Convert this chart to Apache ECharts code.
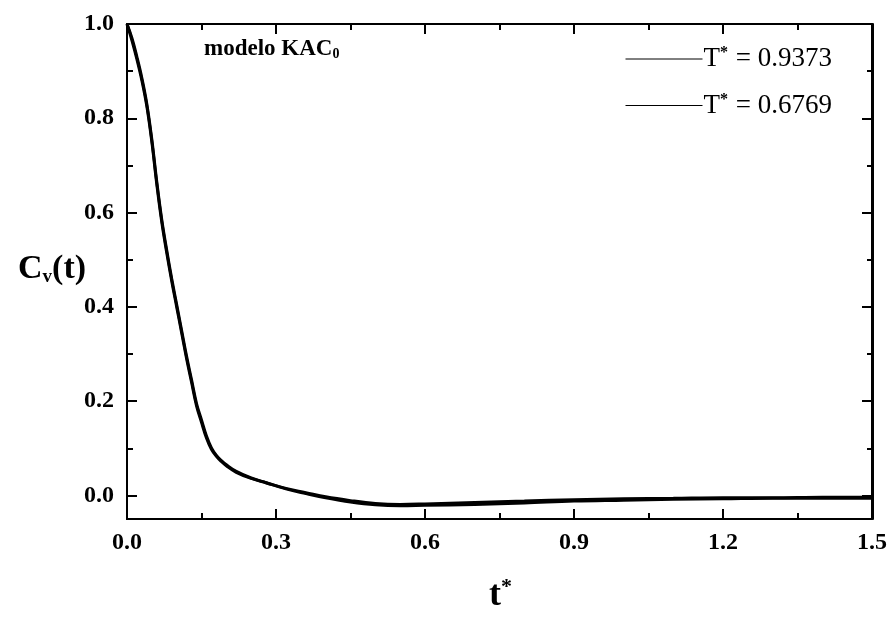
<!DOCTYPE html>
<html>
<head>
<meta charset="utf-8">
<script src="https://cdn.jsdelivr.net/npm/echarts@6/dist/echarts.min.js"></script>
<style>html,body{margin:0;padding:0;background:#fff;}#c{width:890px;height:617px;}</style>
</head>
<body>
<div id="c"></div>
<script>
var tValues = [0, 0.01, 0.02, 0.03, 0.04, 0.05, 0.06, 0.07, 0.08, 0.09, 0.10, 0.11, 0.12, 0.13, 0.14, 0.15, 0.16, 0.17, 0.18, 0.19, 0.20, 0.22, 0.25, 0.28, 0.32, 0.36, 0.40, 0.45, 0.50, 0.55, 0.60, 0.70, 0.80, 0.90, 1.0, 1.1, 1.2, 1.3, 1.4, 1.5];
var cT09373 = [1.0, 0.965, 0.925, 0.88, 0.825, 0.75, 0.66, 0.58, 0.515, 0.455, 0.40, 0.345, 0.29, 0.24, 0.19, 0.155, 0.122, 0.098, 0.083, 0.072, 0.063, 0.049, 0.036, 0.027, 0.015, 0.006, -0.003, -0.011, -0.017, -0.019, -0.018, -0.015, -0.012, -0.009, -0.007, -0.006, -0.005, -0.005, -0.004, -0.004];
var cT06769 = [1.0, 0.97, 0.93, 0.885, 0.83, 0.755, 0.665, 0.585, 0.52, 0.46, 0.405, 0.35, 0.295, 0.245, 0.195, 0.16, 0.126, 0.101, 0.085, 0.074, 0.065, 0.051, 0.037, 0.027, 0.014, 0.004, -0.005, -0.014, -0.020, -0.022, -0.021, -0.019, -0.016, -0.012, -0.010, -0.008, -0.007, -0.006, -0.006, -0.006];
var seriesNames = ['T* = 0.9373', 'T* = 0.6769'];
var yMajorTicks = [0, 0.2, 0.4, 0.6, 0.8, 1.0];
var yMinorTicks = [0.1, 0.3, 0.5, 0.7, 0.9];

var FONT = 'Liberation Serif';
function pairs(xs, ys) { return xs.map(function (x, i) { return [x, ys[i]]; }); }

var chart = echarts.init(document.getElementById('c'), null, { renderer: 'canvas' });
var gridPos = { left: 127, right: 17, top: 24, bottom: 98 };
var axisLineStyle = { color: '#000', width: 2 };

function yAxisDef(gridIndex, position, ticks, len, showLabel) {
  return {
    type: 'value', gridIndex: gridIndex, position: position, min: -0.05, max: 1.0,
    axisLine: { show: true, onZero: false, lineStyle: axisLineStyle },
    axisTick: { show: true, inside: true, length: len, lineStyle: { color: '#000', width: 2 }, customValues: ticks },
    axisLabel: { show: showLabel, customValues: ticks, margin: 13, color: '#000', fontFamily: FONT, fontSize: 24, fontWeight: 'bold',
      formatter: function (v) { return v.toFixed(1); } },
    splitLine: { show: false }
  };
}
function xAxisDef(gridIndex, position, showLabel, show) {
  return {
    type: 'value', gridIndex: gridIndex, position: position, min: 0, max: 1.5, interval: 0.3, show: show,
    axisLine: { show: true, onZero: false, lineStyle: axisLineStyle },
    axisTick: { show: true, inside: true, length: 10, lineStyle: { color: '#000', width: 2 } },
    minorTick: { show: true, splitNumber: 2, length: 6, lineStyle: { color: '#000', width: 2 } },
    axisLabel: { show: showLabel, margin: 12, color: '#000', fontFamily: FONT, fontSize: 24, fontWeight: 'bold',
      formatter: function (v) { return v.toFixed(1); } },
    splitLine: { show: false }
  };
}

var legendRich = { sup: { fontFamily: FONT, fontSize: 16, fontWeight: 'bold', color: '#000', verticalAlign: 'top', padding: [0, 1, 12, 0] },
  n: { fontFamily: FONT, fontSize: 27, color: '#000' } };

var option = {
  backgroundColor: '#fff',
  animation: false,
  grid: [Object.assign({}, gridPos), Object.assign({}, gridPos)],
  xAxis: [xAxisDef(0, 'bottom', true, true), xAxisDef(0, 'top', false, true), xAxisDef(1, 'bottom', false, false)],
  yAxis: [yAxisDef(0, 'left', yMajorTicks, 10, true), yAxisDef(0, 'right', yMajorTicks, 10, false),
          yAxisDef(1, 'left', yMinorTicks, 6, false), yAxisDef(1, 'right', yMinorTicks, 6, false)],
  legend: {
    show: true,
    orient: 'vertical', left: 620, top: 40, itemWidth: 77, itemHeight: 14, itemGap: 19,
    data: seriesNames.map(function (n) { return { name: n }; }),
    formatter: function (name) { return '{n|T}{sup|*}{n|' + name.slice(2) + '}'; },
    textStyle: { color: '#000', fontFamily: FONT, fontSize: 27, rich: legendRich, padding: [0, 0, 0, -4] },
    itemStyle: { opacity: 0 },
    lineStyle: { width: 1, color: '#000', opacity: 1 },
    selectedMode: false
  },
  title: {
    left: 199, top: 32,
    text: 'modelo KAC{sub|0}',
    textStyle: { fontFamily: FONT, fontSize: 23, fontWeight: 'bold', color: '#000',
      rich: { sub: { fontFamily: FONT, fontSize: 14, fontWeight: 'bold', color: '#000', verticalAlign: 'bottom', padding: [10, 0, 0, 0] } } }
  },
  graphic: [
    { type: 'text', left: 18, top: 252, style: { text: '{a|C}{b|v}{a|(t)}', rich: {
      a: { fontFamily: FONT, fontSize: 34, fontWeight: 'bold', fill: '#000' },
      b: { fontFamily: FONT, fontSize: 19, fontWeight: 'bold', fill: '#000', padding: [16, 0, 0, 0] } } } },
    { type: 'text', left: 489, top: 576, style: { text: '{a|t}{b|*}', rich: {
      a: { fontFamily: FONT, fontSize: 36, fontWeight: 'bold', fill: '#000' },
      b: { fontFamily: FONT, fontSize: 22, fontWeight: 'bold', fill: '#000', padding: [0, 0, 18, 0] } } } }
  ],
  series: [
    { name: seriesNames[0], type: 'line', xAxisIndex: 0, yAxisIndex: 0, data: pairs(tValues, cT09373), smooth: 0.4, symbol: 'none',
      lineStyle: { color: '#000', width: 3 }, itemStyle: { color: '#000' } },
    { name: seriesNames[1], type: 'line', xAxisIndex: 0, yAxisIndex: 0, data: pairs(tValues, cT06769), smooth: 0.4, symbol: 'none',
      lineStyle: { color: '#000', width: 3 }, itemStyle: { color: '#000' } }
  ]
};
chart.setOption(option);
</script>
</body>
</html>
